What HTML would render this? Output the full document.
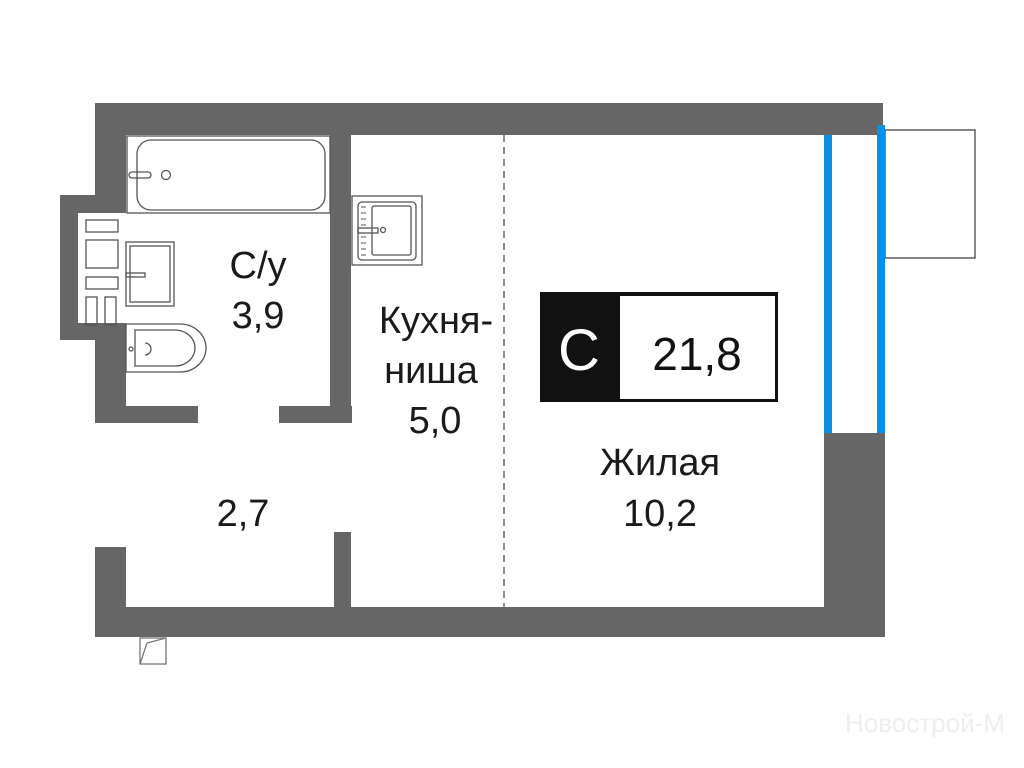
<!DOCTYPE html>
<html><head><meta charset="utf-8"><style>
html,body{margin:0;padding:0;background:#fff;width:1024px;height:768px;overflow:hidden}
svg{display:block}
text{font-family:"Liberation Sans","DejaVu Sans",sans-serif}
</style></head><body>
<svg width="1024" height="768" viewBox="0 0 1024 768" xmlns="http://www.w3.org/2000/svg">
<g fill="#666">
<rect x="95" y="103" width="788" height="32"/>
<rect x="95" y="103" width="31" height="320"/>
<rect x="60" y="195" width="40" height="145"/>
<rect x="330" y="135" width="21" height="288"/>
<rect x="95" y="406" width="103" height="17"/>
<rect x="279" y="406" width="73" height="17"/>
<rect x="95" y="547" width="31" height="90"/>
<rect x="95" y="607" width="790" height="30"/>
<rect x="334" y="532" width="17" height="80"/>
<rect x="824" y="433" width="61" height="200"/>
</g>
<!-- left bump panel -->
<rect x="78" y="213" width="48" height="110" fill="#fff"/>
<g fill="none" stroke="#555" stroke-width="1.3">
<rect x="86" y="220" width="32" height="12"/>
<rect x="86" y="240" width="32" height="28"/>
<rect x="86" y="277" width="32" height="12"/>
<rect x="86" y="297" width="11" height="28"/>
<rect x="105" y="297" width="11" height="28"/>
<!-- bath -->
<rect x="127" y="136" width="203" height="77"/>
<rect x="137" y="140" width="188" height="70" rx="14"/>
<rect x="129" y="172" width="22" height="6" rx="3"/>
<circle cx="166" cy="175" r="4.5"/>
<!-- basin -->
<rect x="126" y="242" width="48" height="64"/>
<rect x="130" y="246" width="40" height="56"/>
<rect x="126" y="273" width="19" height="4"/>
<!-- toilet -->
<path d="M126 324 H180 A26 24 0 0 1 180 372 H126 Z"/>
<path d="M135 330 H175 A20 18 0 0 1 175 366 H135 Z"/>
<path d="M145 343 A6 6 0 0 1 145 355"/>
<circle cx="131" cy="349" r="2"/>
<!-- kitchen sink -->
<rect x="352" y="196" width="70" height="69"/>
<rect x="358" y="202" width="58" height="58" rx="4"/>
<rect x="372" y="206" width="39" height="49" rx="2"/>
<rect x="358" y="228" width="20" height="5"/>
<circle cx="383" cy="230" r="2.5"/>
<!-- balcony -->
<rect x="885" y="130" width="90" height="128" stroke="#444"/>
<!-- door swing -->
<rect x="140" y="638" width="26" height="26" stroke="#777"/>
<path d="M140 664 L147 643 L166 638" stroke="#777"/>
</g>
<g stroke="#555" stroke-width="1" fill="none">
<path d="M352 196 v-0" />
</g>
<g stroke="#555" stroke-width="1">
<line x1="361" y1="207" x2="366" y2="207"/><line x1="361" y1="213" x2="366" y2="213"/><line x1="361" y1="219" x2="366" y2="219"/><line x1="361" y1="225" x2="366" y2="225"/><line x1="361" y1="237" x2="366" y2="237"/><line x1="361" y1="243" x2="366" y2="243"/><line x1="361" y1="249" x2="366" y2="249"/><line x1="361" y1="255" x2="366" y2="255"/>
</g>
<line x1="504" y1="135" x2="504" y2="607" stroke="#666" stroke-width="1.5" stroke-dasharray="7,5"/>
<rect x="824" y="135" width="8" height="298" fill="#0a90e0"/>
<rect x="877" y="125" width="8" height="308" fill="#0a90e0"/>
<!-- badge -->
<rect x="540" y="292" width="238" height="110" fill="#111"/>
<rect x="620" y="296" width="155" height="103" fill="#fff"/>
<text x="579" y="370" font-size="58" fill="#fff" text-anchor="middle">С</text>
<text x="697" y="370" font-size="46" fill="#111" text-anchor="middle">21,8</text>
<g font-size="38" fill="#1a1a1a" text-anchor="middle">
<text x="258" y="278">С/у</text>
<text x="258" y="328">3,9</text>
<text x="436" y="333">Кухня-</text>
<text x="431" y="383">ниша</text>
<text x="435" y="433">5,0</text>
<text x="660" y="475">Жилая</text>
<text x="660" y="526">10,2</text>
<text x="243" y="526">2,7</text>
</g>
<text x="925" y="732" font-size="26" fill="#eee" text-anchor="middle">Новострой-М</text>
</svg>
</body></html>
